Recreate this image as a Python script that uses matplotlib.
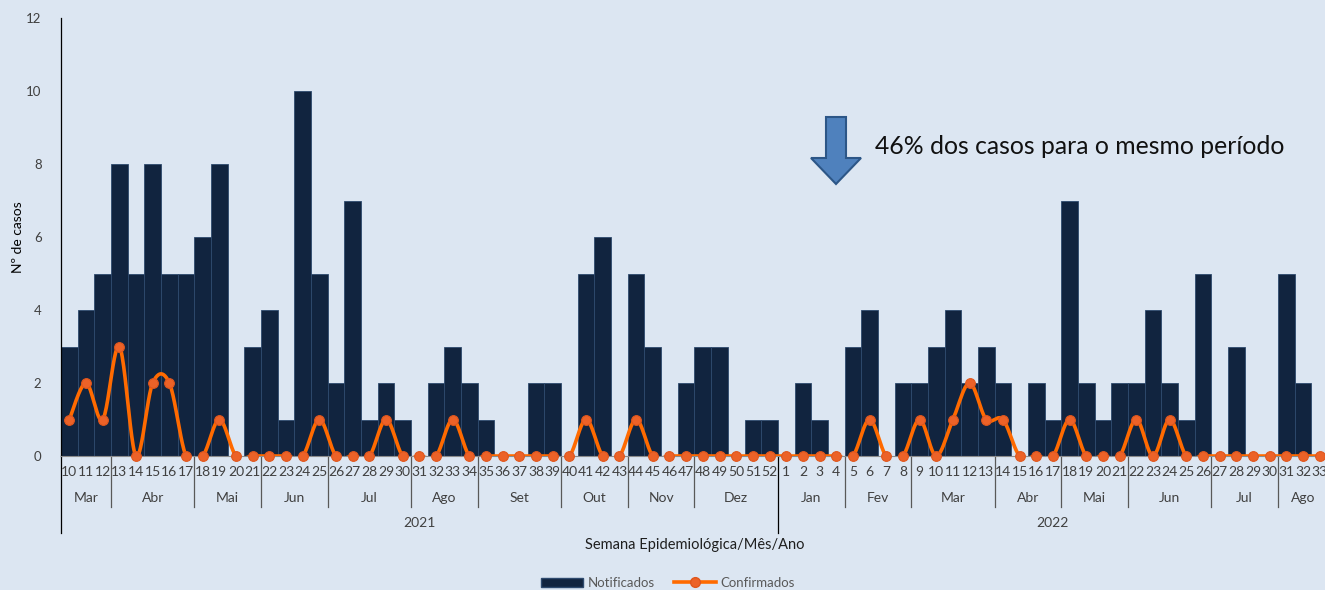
import numpy as np
import matplotlib
matplotlib.use("Agg")
import matplotlib.pyplot as plt
from matplotlib.patches import Polygon, Patch
from matplotlib.lines import Line2D
import matplotlib.transforms as mtransforms

# ---------------------------------------------------------------------------
# Data
# ---------------------------------------------------------------------------
weeks_2021 = list(range(10, 53))
weeks_2022 = list(range(1, 34))

notificados_2021 = [3, 4, 5, 8, 5, 8, 5, 5, 6, 8, 0, 3, 4, 1, 10, 5, 2, 7, 1, 2,
                    1, 0, 2, 3, 2, 1, 0, 0, 2, 2, 0, 5, 6, 0, 5, 3, 0, 2, 3, 3,
                    0, 1, 1]
notificados_2022 = [0, 2, 1, 0, 3, 4, 0, 2, 2, 3, 4, 2, 3, 2, 0, 2, 1, 7, 2, 1,
                    2, 2, 4, 2, 1, 5, 0, 3, 0, 0, 5, 2, 0]

confirmados_2021 = [1, 2, 1, 3, 0, 2, 2, 0, 0, 1, 0, 0, 0, 0, 0, 1, 0, 0, 0, 1,
                    0, 0, 0, 1, 0, 0, 0, 0, 0, 0, 0, 1, 0, 0, 1, 0, 0, 0, 0, 0,
                    0, 0, 0]
confirmados_2022 = [0, 0, 0, 0, 0, 1, 0, 0, 1, 0, 1, 2, 1, 1, 0, 0, 0, 1, 0, 0,
                    0, 1, 0, 1, 0, 0, 0, 0, 0, 0, 0, 0, 0]

months_2021 = ["Mar", "Abr", "Mai", "Jun", "Jul", "Ago", "Set", "Out", "Nov", "Dez"]
month_weeks_2021 = [3, 5, 4, 4, 5, 4, 5, 4, 4, 5]
months_2022 = ["Jan", "Fev", "Mar", "Abr", "Mai", "Jun", "Jul", "Ago"]
month_weeks_2022 = [4, 4, 5, 4, 4, 5, 4, 3]

years = ["2021", "2022"]

# ---------------------------------------------------------------------------
# Styling
# ---------------------------------------------------------------------------
BG = "#DCE6F2"
BAR_COLOR = "#11243F"
BAR_EDGE = "#2E4A6E"
LINE_COLOR = "#FF6A00"
MARKER_FACE = "#EC6228"
TEXT_COLOR = "#404040"
FONT = ["Lato", "DejaVu Sans"]

plt.rcParams["font.family"] = FONT


def smooth_curve(x, y, n=24):
    """Catmull-Rom style smoothing (like Excel's 'smoothed line')."""
    x = np.asarray(x, float)
    y = np.asarray(y, float)
    px = np.concatenate([[x[0]], x, [x[-1]]])
    py = np.concatenate([[y[0]], y, [y[-1]]])
    xs, ys = [], []
    t = np.linspace(0, 1, n)
    for i in range(1, len(px) - 2):
        p0 = np.array([px[i - 1], py[i - 1]])
        p1 = np.array([px[i], py[i]])
        p2 = np.array([px[i + 1], py[i + 1]])
        p3 = np.array([px[i + 2], py[i + 2]])
        c1 = p1 + (p2 - p0) / 6
        c2 = p2 - (p3 - p1) / 6
        b = ((1 - t) ** 3)[:, None] * p1 + (3 * (1 - t) ** 2 * t)[:, None] * c1 \
            + (3 * (1 - t) * t ** 2)[:, None] * c2 + (t ** 3)[:, None] * p2
        xs.append(b[:, 0])
        ys.append(b[:, 1])
    return np.concatenate(xs), np.concatenate(ys)


week_labels = [str(w) for w in weeks_2021 + weeks_2022]
notificados = notificados_2021 + notificados_2022
confirmados = confirmados_2021 + confirmados_2022
x = np.arange(len(week_labels))

fig = plt.figure(figsize=(13.25, 5.9), dpi=100, facecolor=BG)
W, H = 1325.0, 590.0
ax = fig.add_axes([61 / W, 134 / H, (1328 - 61) / W, 438 / H])
ax.set_facecolor(BG)

ax.bar(x, notificados, width=1.0, color=BAR_COLOR, edgecolor=BAR_EDGE,
       linewidth=0.6, zorder=2)

sx, sy = smooth_curve(x, confirmados)
ax.plot(sx, sy, color=LINE_COLOR, linewidth=2.6, zorder=3,
        solid_capstyle="round")
ax.plot(x, confirmados, linestyle="none", marker="o", markersize=7,
        markerfacecolor=MARKER_FACE, markeredgecolor="#E0561C",
        markeredgewidth=0.8, zorder=4, clip_on=False)

ax.set_xlim(-0.5, len(x) - 0.5)
ax.set_ylim(0, 12)
ax.set_yticks(range(0, 13, 2))
ax.tick_params(axis="y", length=0, pad=14, labelsize=9.5, labelcolor=TEXT_COLOR)
ax.set_xticks([])
for side in ["top", "right"]:
    ax.spines[side].set_visible(False)
ax.spines["left"].set_color("black")
ax.spines["left"].set_linewidth(0.9)
ax.spines["bottom"].set_color("#8C8C8C")
ax.spines["bottom"].set_linewidth(0.8)
fig.text(18 / W, 1 - 237 / H, "Nº de casos", rotation=90, ha="center",
         va="center", fontsize=10, color="black")

# --- multi-level category axis -------------------------------------------
trans = mtransforms.blended_transform_factory(ax.transData, ax.transAxes)
Y_WEEK, Y_MONTH, Y_YEAR = -0.037, -0.096, -0.153
SEP_MONTH, SEP_YEAR = -0.117, -0.175

for xi, lab in zip(x, week_labels):
    ax.text(xi, Y_WEEK, lab, transform=trans, ha="center", va="center",
            fontsize=10, color=TEXT_COLOR)

start = 0
all_months = months_2021 + months_2022
all_counts = month_weeks_2021 + month_weeks_2022
for name, cnt in zip(all_months, all_counts):
    centre = start + (cnt - 1) / 2
    ax.text(centre, Y_MONTH, name, transform=trans, ha="center", va="center",
            fontsize=10, color=TEXT_COLOR)
    if start > 0 and start != len(weeks_2021):
        ax.plot([start - 0.5, start - 0.5], [-0.003, SEP_MONTH], transform=trans,
                color="#595959", linewidth=0.9, clip_on=False)
    start += cnt

# year separator and left axis extension
ax.plot([len(weeks_2021) - 0.5] * 2, [-0.003, SEP_YEAR], transform=trans,
        color="black", linewidth=0.9, clip_on=False)
ax.plot([0, 0], [0, SEP_YEAR], transform=ax.transAxes, color="black",
        linewidth=0.9, clip_on=False)

year_centres = [(len(weeks_2021) - 1) / 2,
                len(weeks_2021) + (len(weeks_2022) - 1) / 2]
for name, c in zip(years, year_centres):
    ax.text(c, Y_YEAR, name, transform=trans, ha="center", va="center",
            fontsize=10, color=TEXT_COLOR)

fig.text(695 / W, 1 - 545 / H, "Semana Epidemiológica/Mês/Ano", ha="center",
         va="center", fontsize=10.5, color="#1F1F1F")

# --- annotation arrow and text -------------------------------------------
ax_pts = [(826, 117), (846, 117), (846, 158), (861, 158), (836, 184),
          (811, 158), (826, 158)]
arrow = Polygon([(px / W, 1 - py / H) for px, py in ax_pts], closed=True,
                transform=fig.transFigure, facecolor="#4F81BD",
                edgecolor="#2C5687", linewidth=1.5)
fig.patches.append(arrow)
fig.text(875 / W, 1 - 147 / H, "46% dos casos para o mesmo período",
         ha="left", va="center", fontsize=17.8, color="#111111")

# --- legend -------------------------------------------------------------
handles = [Patch(facecolor=BAR_COLOR, edgecolor=BAR_EDGE),
           Line2D([], [], color=LINE_COLOR, linewidth=2.6, marker="o",
                  markersize=7, markerfacecolor=MARKER_FACE,
                  markeredgecolor="#E0561C")]
fig.legend(handles, ["Notificados", "Confirmados"], loc="center",
           bbox_to_anchor=(668 / W, 1 - 583 / H), ncol=2, frameon=False,
           fontsize=9.5, labelcolor="#595959", handlelength=3.2,
           handleheight=0.7, handletextpad=0.3, columnspacing=1.5)

fig.savefig("out.png", dpi=100, facecolor=BG)
